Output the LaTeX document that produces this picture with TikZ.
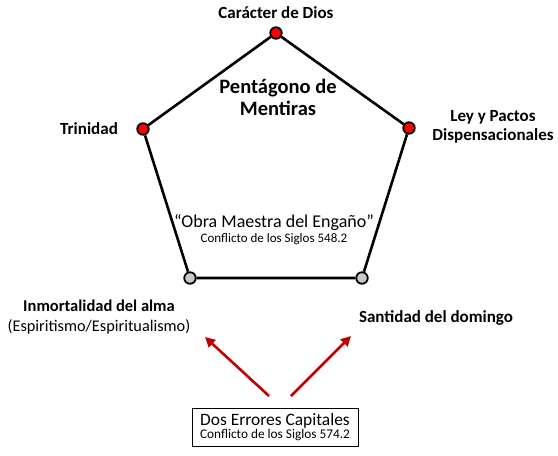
\documentclass[tikz,border=0pt]{standalone}
\usepackage{fontspec}
\setmainfont{Carlito}
\usetikzlibrary{arrows.meta}
\definecolor{arrred}{RGB}{192,0,0}
\definecolor{dotgray}{RGB}{200,200,200}
\tikzset{
  vert/.style={circle,draw=black,line width=1.8pt,minimum size=11.5pt,inner sep=0pt},
  redv/.style={vert,fill=red},
  grayv/.style={vert,fill=dotgray},
  edge/.style={line width=2.6pt,black},
  lbl/.style={font=\bfseries\fontsize{17}{19}\selectfont,align=center,inner sep=0pt},
  arr/.style={arrred,line width=2.6pt,-{Triangle[length=10pt,width=10pt]}}
}
\begin{document}
\begin{tikzpicture}[x=1pt,y=-1pt]
\useasboundingbox (0,0) rectangle (558,456);
% vertices
\node[redv] (top) at (276,33) {};
\node[redv] (tl) at (143,129) {};
\node[redv] (tr) at (409,128) {};
\node[grayv] (bl) at (190,278) {};
\node[grayv] (br) at (362,278) {};
\draw[edge] (top) -- (tr) -- (br) -- (bl) -- (tl) -- (top);
% labels
\node[lbl] (ltop) at (276,13) {Carácter de Dios};
\node[lbl] (ltl) at (89,129) {Trinidad};
\node[lbl] (ltr) at (493,127) {Ley y Pactos\\Dispensacionales};
\node[font=\bfseries\fontsize{20.5}{22}\selectfont,align=center,inner sep=0pt] (title) at (278,97) {Pentágono de\\Mentiras};
\node[align=center,inner sep=0pt] (obra) at (274,230) {{\fontsize{18}{19}\selectfont “Obra Maestra del Engaño”}\\[2pt]{\fontsize{13}{14}\selectfont Conflicto de los Siglos 548.2}};
\node[inner sep=0pt] (inm1) at (99,306) {\bfseries\fontsize{16.5}{19}\selectfont Inmortalidad del alma};
\node[inner sep=0pt] (inm2) at (99,327) {\fontsize{16.3}{19}\selectfont (Espiritismo/Espiritualismo)};
\node[lbl] (sant) at (436,318) {Santidad del domingo};
% box
\node[draw=black,line width=0.6pt,align=center,minimum width=166pt,minimum height=38pt,inner sep=2pt] (box) at (275,427) {{\fontsize{17.4}{18}\selectfont Dos Errores Capitales}\\[0pt]{\fontsize{13.3}{14}\selectfont Conflicto de los Siglos 574.2}};
\coordinate (a1s) at (269,396);
\coordinate (a1e) at (205,337);
\coordinate (a2s) at (291,396);
\coordinate (a2e) at (351,336);
\draw[arr] (a1s) -- (a1e);
\draw[arr] (a2s) -- (a2e);
\end{tikzpicture}
\end{document}
